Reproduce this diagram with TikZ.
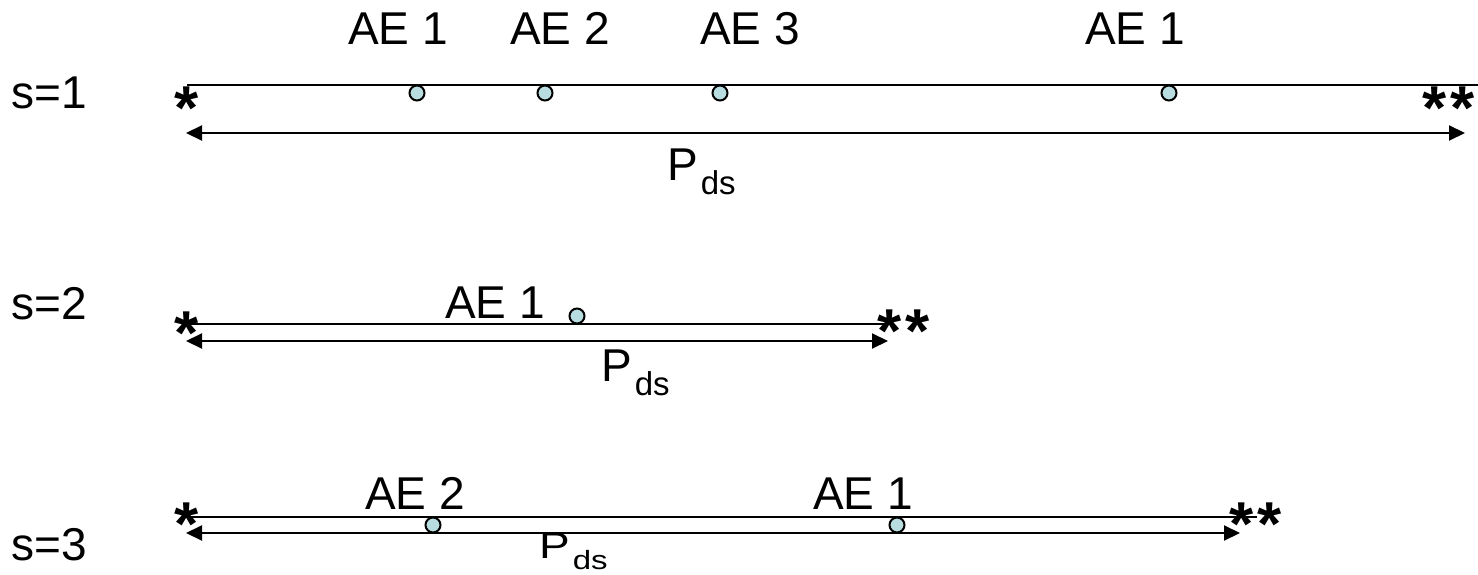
\documentclass[tikz,border=0pt]{standalone}
\usepackage{fontspec}
\setmainfont{Liberation Sans}
\usetikzlibrary{arrows.meta}
\definecolor{dotfill}{RGB}{183,221,225}
\newcommand{\pdslabel}{P\kern3pt\raisebox{-14pt}{\fontsize{33}{33}\selectfont ds}}
\begin{document}
\begin{tikzpicture}[x=1pt,y=-1pt,
  lbl/.style={font=\fontsize{46}{46}\selectfont, inner sep=0, anchor=base west},
  astx/.style={font=\fontsize{62}{62}\selectfont\bfseries, inner sep=0, anchor=base west},
  dot/.style={circle, draw=black, line width=2pt, fill=dotfill, minimum size=15pt, inner sep=0},
  seg/.style={line width=2pt},
  span/.style={line width=2pt, {Triangle[length=16pt,width=15pt]}-{Triangle[length=16pt,width=15pt]}},
]
\useasboundingbox (0,0) rectangle (1478,575);
% ---------- row s=1
\node[lbl] (s1) at (11,109) {s=1};
\coordinate (l1a) at (187,85);
\coordinate (l1b) at (1478,85);
\coordinate (a1a) at (186,133);
\coordinate (a1b) at (1465,133);
\draw[seg] (l1a) -- (l1b);
\draw[span] (a1a) -- (a1b);
\node[astx] (st1) at (174,130) {*};
\node[astx] (dst1) at (1422,130) {*\kern4pt*};
\node[dot] (d11) at (417,93) {};
\node[dot] (d12) at (545,93) {};
\node[dot] (d13) at (720,93) {};
\node[dot] (d14) at (1169,93) {};
\node[lbl] (t11) at (348,45) {AE 1};
\node[lbl] (t12) at (510,45) {AE 2};
\node[lbl] (t13) at (700,45) {AE 3};
\node[lbl] (t14) at (1085,45) {AE 1};
\node[lbl] (p1) at (667,180) {\pdslabel};
% ---------- row s=2
\node[lbl] (s2) at (11,319) {s=2};
\coordinate (l2a) at (185,324);
\coordinate (l2b) at (885,324);
\coordinate (a2a) at (186,341);
\coordinate (a2b) at (888,341);
\draw[seg] (l2a) -- (l2b);
\draw[span] (a2a) -- (a2b);
\node[astx] (st2) at (174,354) {*};
\node[astx] (dst2) at (877,352) {*\kern4pt*};
\node[dot] (d21) at (577,316) {};
\node[lbl] (t21) at (445,318) {AE 1};
\node[lbl] (p2) at (601,381) {\pdslabel};
% ---------- row s=3
\node[lbl] (s3) at (11,560) {s=3};
\coordinate (l3a) at (185,517);
\coordinate (l3b) at (1257,517);
\coordinate (a3a) at (186,533);
\coordinate (a3b) at (1240,533);
\draw[seg] (l3a) -- (l3b);
\draw[span] (a3a) -- (a3b);
\node[astx] (st3) at (174,545) {*};
\node[astx] (dst3) at (1229,545) {*\kern4pt*};
\node[dot] (d31) at (433,525) {};
\node[dot] (d32) at (897,525) {};
\node[lbl] (t31) at (365,509) {AE 2};
\node[lbl] (t32) at (813,509) {AE 1};
\node[lbl, yscale=0.8] (p3) at (539,558) {\pdslabel};
\end{tikzpicture}
\end{document}
